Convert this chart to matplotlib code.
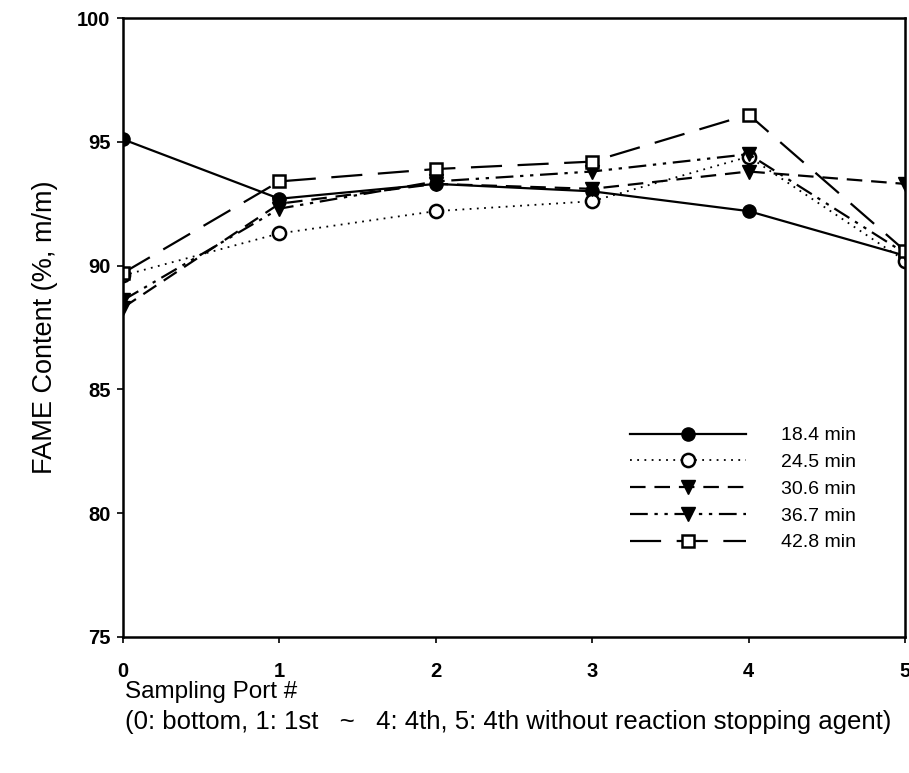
import matplotlib
matplotlib.use("Agg")
import matplotlib.pyplot as plt

plt.rcParams['font.family'] = ['Liberation Sans', 'DejaVu Sans']

ports = [0, 1, 2, 3, 4, 5]
labels = ["18.4 min", "24.5 min", "30.6 min", "36.7 min", "42.8 min"]
s18 = [95.1, 92.7, 93.3, 93.0, 92.2, 90.4]
s24 = [89.6, 91.3, 92.2, 92.6, 94.4, 90.2]
s30 = [88.3, 92.5, 93.3, 93.1, 93.8, 93.3]
s36 = [88.6, 92.3, 93.4, 93.8, 94.5, 90.5]
s42 = [89.7, 93.4, 93.9, 94.2, 96.1, 90.6]
yticks = [75, 80, 85, 90, 95, 100]

fig = plt.figure(figsize=(9.09, 7.73), dpi=100)
ax = fig.add_axes([0.1353, 0.176, 0.8603, 0.8007])

ms = 9.5
ax.plot(ports, s18, color='black', lw=1.6, ls='-', marker='o', ms=ms,
        mfc='black', mec='black', label=labels[0])
ax.plot(ports, s24, color='black', lw=1.3, ls=(0, (1, 3)), marker='o', ms=ms,
        mfc='white', mec='black', mew=1.8, label=labels[1])
ax.plot(ports, s30, color='black', lw=1.6, ls=(0, (7, 4)), marker='v', ms=ms,
        mfc='black', mec='black', label=labels[2])
ax.plot(ports, s36, color='black', lw=1.6, ls=(0, (8, 3, 1.5, 3, 1.5, 3)), marker='v', ms=ms,
        mfc='black', mec='black', label=labels[3])
ax.plot(ports, s42, color='black', lw=1.6, ls=(0, (14, 7)), marker='s', ms=ms - 1,
        mfc='white', mec='black', mew=1.8, label=labels[4])

ax.set_xlim(0, 5)
ax.set_ylim(75, 100)
ax.set_xticks(ports)
ax.set_yticks(yticks)
ax.tick_params(direction='out', length=4, width=1.2, labelsize=14.5)
ax.tick_params(axis='x', pad=14)
ax.tick_params(axis='y', pad=5)
for lab in ax.get_xticklabels() + ax.get_yticklabels():
    lab.set_fontweight('bold')
for sp in ax.spines.values():
    sp.set_linewidth(1.8)

ax.set_ylabel("FAME Content (%, m/m)", fontsize=19.5, labelpad=14)
fig.text(0.137, 0.105, "Sampling Port #", fontsize=17.5, ha='left', va='center')
fig.text(0.137, 0.066, "(0: bottom, 1: 1st   ~   4: 4th, 5: 4th without reaction stopping agent)",
         fontsize=18.5, ha='left', va='center')

leg = ax.legend(loc='center left', bbox_to_anchor=(0.648, 0.239), frameon=False,
                fontsize=14, handlelength=6.0, handletextpad=1.8, labelspacing=0.47,
                borderpad=0, borderaxespad=0)

fig.savefig("out.png", dpi=100)
